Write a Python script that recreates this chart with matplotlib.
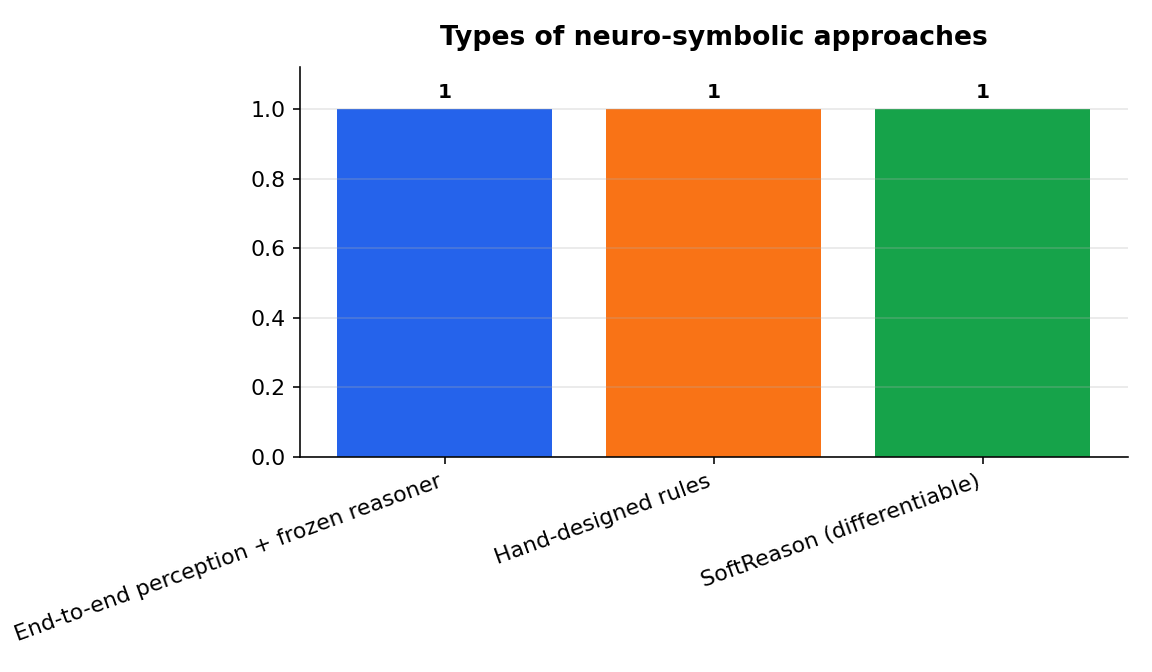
import numpy as np
import matplotlib.pyplot as plt

categorias = ["End-to-end perception + frozen reasoner", "Hand-designed rules", "SoftReason (differentiable)"]
valores = [1, 1, 1]
colores = ["#2563eb", "#f97316", "#16a34a"]

fig, ax = plt.subplots(figsize=(8, 4.6667), dpi=144)
x = np.arange(len(categorias))
barras = ax.bar(x, valores, color=colores, width=0.8)

for b, v in zip(barras, valores):
    ax.text(b.get_x() + b.get_width() / 2, v + 0.02, str(v), ha="center", va="bottom",
            fontsize=10, fontweight="bold")

ax.set_xticks(x)
ax.set_xticklabels(categorias, rotation=20, ha="right", fontsize=11)
ax.tick_params(axis="y", labelsize=11)
ax.set_ylim(0, 1.12)
ax.set_title("Types of neuro-symbolic approaches", fontsize=13.3, fontweight="bold", pad=11)
ax.grid(axis="y", alpha=0.3)
ax.spines["top"].set_visible(False)
ax.spines["right"].set_visible(False)

plt.subplots_adjust(left=0.26, right=0.979, top=0.9, bottom=0.32)
plt.savefig("out.png", dpi=144)
